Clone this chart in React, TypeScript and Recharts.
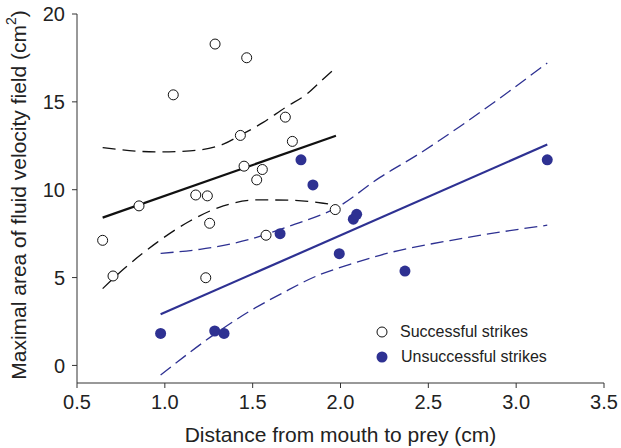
import React from "react";
import { ComposedChart, Scatter, Line, XAxis, YAxis } from "recharts";

const xTicks = [0.5, 1.0, 1.5, 2.0, 2.5, 3.0, 3.5];
const yTicks = [0, 5, 10, 15, 20];
const legendLabels = ["Successful strikes", "Unsuccessful strikes"];

const successful = [
  { x: 0.646, y: 7.12 }, { x: 0.705, y: 5.09 }, { x: 0.853, y: 9.08 },
  { x: 1.048, y: 15.4 }, { x: 1.176, y: 9.7 }, { x: 1.233, y: 4.99 },
  { x: 1.242, y: 9.65 }, { x: 1.255, y: 8.09 }, { x: 1.286, y: 18.29 },
  { x: 1.43, y: 13.09 }, { x: 1.451, y: 11.34 }, { x: 1.466, y: 17.51 },
  { x: 1.523, y: 10.56 }, { x: 1.555, y: 11.15 }, { x: 1.576, y: 7.41 },
  { x: 1.686, y: 14.13 }, { x: 1.726, y: 12.75 }, { x: 1.97, y: 8.87 },
];

const unsuccessful = [
  { x: 0.976, y: 1.82 }, { x: 1.284, y: 1.96 }, { x: 1.337, y: 1.82 },
  { x: 1.656, y: 7.5 }, { x: 1.775, y: 11.7 }, { x: 1.843, y: 10.27 },
  { x: 1.993, y: 6.36 }, { x: 2.073, y: 8.32 }, { x: 2.092, y: 8.6 },
  { x: 2.367, y: 5.37 }, { x: 3.177, y: 11.7 },
];

const blackFit = [{ x: 0.646, y: 8.41 }, { x: 1.974, y: 13.07 }];
const blackUpper = [
  { x: 0.646, y: 12.4 }, { x: 0.954, y: 12.15 }, { x: 1.143, y: 12.21 },
  { x: 1.333, y: 12.59 }, { x: 1.432, y: 13.11 }, { x: 1.56, y: 13.83 },
  { x: 1.686, y: 14.68 }, { x: 1.808, y: 15.44 }, { x: 1.902, y: 16.3 },
  { x: 1.976, y: 16.96 },
];
const blackLower = [
  { x: 0.646, y: 4.37 }, { x: 0.764, y: 5.47 }, { x: 0.954, y: 6.99 },
  { x: 1.143, y: 8.22 }, { x: 1.333, y: 9.08 }, { x: 1.523, y: 9.42 },
  { x: 1.712, y: 9.4 }, { x: 1.902, y: 9.23 }, { x: 1.974, y: 9.12 },
];

const blueFit = [{ x: 0.976, y: 2.91 }, { x: 3.177, y: 12.57 }];
const blueUpper = [
  { x: 0.976, y: 6.38 }, { x: 1.2, y: 6.61 }, { x: 1.485, y: 7.18 },
  { x: 1.712, y: 7.94 }, { x: 1.978, y: 8.98 }, { x: 2.225, y: 10.7 },
  { x: 2.453, y: 12.08 }, { x: 2.68, y: 13.6 }, { x: 3.177, y: 17.21 },
];
const blueLower = [
  { x: 0.976, y: -0.55 }, { x: 1.295, y: 1.86 }, { x: 1.485, y: 3.1 },
  { x: 1.674, y: 4.14 }, { x: 1.864, y: 5.09 }, { x: 2.054, y: 5.75 },
  { x: 2.225, y: 6.27 }, { x: 2.699, y: 7.24 }, { x: 3.177, y: 7.98 },
];

const BLUE = "#2e3192";
const AXIS = "#333";
const TEXT = "#222";
const FONT = "'Liberation Sans', Arial, Helvetica, sans-serif";

const OpenDot = (p: any) => (
  <circle cx={p.cx} cy={p.cy} r={5} fill="#fff" stroke="#111" strokeWidth={1} />
);
const FilledDot = (p: any) => (
  <circle cx={p.cx} cy={p.cy} r={5.5} fill={BLUE} stroke="none" />
);

const LegendBox = () => (
  <div
    style={{
      position: "absolute",
      left: 375,
      top: 319,
      fontFamily: FONT,
      fontSize: 16,
      color: TEXT,
      lineHeight: "25px",
      whiteSpace: "nowrap",
    }}
  >
    <div style={{ display: "flex", alignItems: "center" }}>
      <svg width={20} height={14}>
        <circle cx={7} cy={7} r={5} fill="#fff" stroke="#111" strokeWidth={1} />
      </svg>
      <span style={{ marginLeft: 5 }}>{legendLabels[0]}</span>
    </div>
    <div style={{ display: "flex", alignItems: "center" }}>
      <svg width={20} height={14}>
        <circle cx={7} cy={7} r={5.5} fill={BLUE} />
      </svg>
      <span style={{ marginLeft: 6 }}>{legendLabels[1]}</span>
    </div>
  </div>
);

const YLabel = () => (
  <text
    x={18}
    y={195}
    transform="rotate(-90, 18, 195)"
    textAnchor="middle"
    dominantBaseline="central"
    fontFamily={FONT}
    fontSize={21}
    fill={TEXT}
  >
    Maximal area of fluid velocity field (cm
    <tspan dy={-7} fontSize={14}>2</tspan>
    <tspan dy={7}>)</tspan>
  </text>
);

const XLabel = (props: any) => {
  const vb = props.viewBox || { x: 77, width: 527 };
  return (
    <text
      x={vb.x + vb.width / 2}
      y={442}
      textAnchor="middle"
      fontFamily={FONT}
      fontSize={21}
      fill={TEXT}
    >
      Distance from mouth to prey (cm)
    </text>
  );
};

export default function App() {
  return (
    <div style={{ position: "absolute", left: 0, top: 0, width: 621, height: 448, background: "#fff" }}>
      <ComposedChart
        width={621}
        height={448}
        margin={{ top: 14, right: 17, bottom: 0, left: 0 }}
      >
        <XAxis
          type="number"
          dataKey="x"
          domain={[0.5, 3.5]}
          ticks={xTicks}
          tickFormatter={(v: number) => v.toFixed(1)}
          allowDataOverflow
          height={65}
          stroke={AXIS}
          tickSize={5}
          tickMargin={7}
          tick={{ fill: TEXT, fontSize: 20, fontFamily: FONT }}
          interval={0}
          label={<XLabel />}
        />
        <YAxis
          type="number"
          dataKey="y"
          domain={[-1, 20]}
          ticks={yTicks}
          allowDataOverflow
          width={77}
          stroke={AXIS}
          tickSize={5}
          tickMargin={7}
          tick={{ fill: TEXT, fontSize: 20, fontFamily: FONT }}
          interval={0}
          label={<YLabel />}
        />
        <Line data={blackUpper} dataKey="y" type="monotone" stroke="#111" strokeWidth={1.3} strokeDasharray="13 7" dot={false} isAnimationActive={false} legendType="none" />
        <Line data={blackLower} dataKey="y" type="monotone" stroke="#111" strokeWidth={1.3} strokeDasharray="13 7" dot={false} isAnimationActive={false} legendType="none" />
        <Line data={blackFit} dataKey="y" type="linear" stroke="#111" strokeWidth={2.2} dot={false} isAnimationActive={false} legendType="none" />
        <Line data={blueUpper} dataKey="y" type="monotone" stroke={BLUE} strokeWidth={1.3} strokeDasharray="13 6" dot={false} isAnimationActive={false} legendType="none" />
        <Line data={blueLower} dataKey="y" type="monotone" stroke={BLUE} strokeWidth={1.3} strokeDasharray="13 6" dot={false} isAnimationActive={false} legendType="none" />
        <Line data={blueFit} dataKey="y" type="linear" stroke={BLUE} strokeWidth={2.2} dot={false} isAnimationActive={false} legendType="none" />
        <Scatter name={legendLabels[0]} data={successful} dataKey="y" shape={OpenDot} isAnimationActive={false} />
        <Scatter name={legendLabels[1]} data={unsuccessful} dataKey="y" shape={FilledDot} isAnimationActive={false} />
      </ComposedChart>
      <LegendBox />
    </div>
  );
}
